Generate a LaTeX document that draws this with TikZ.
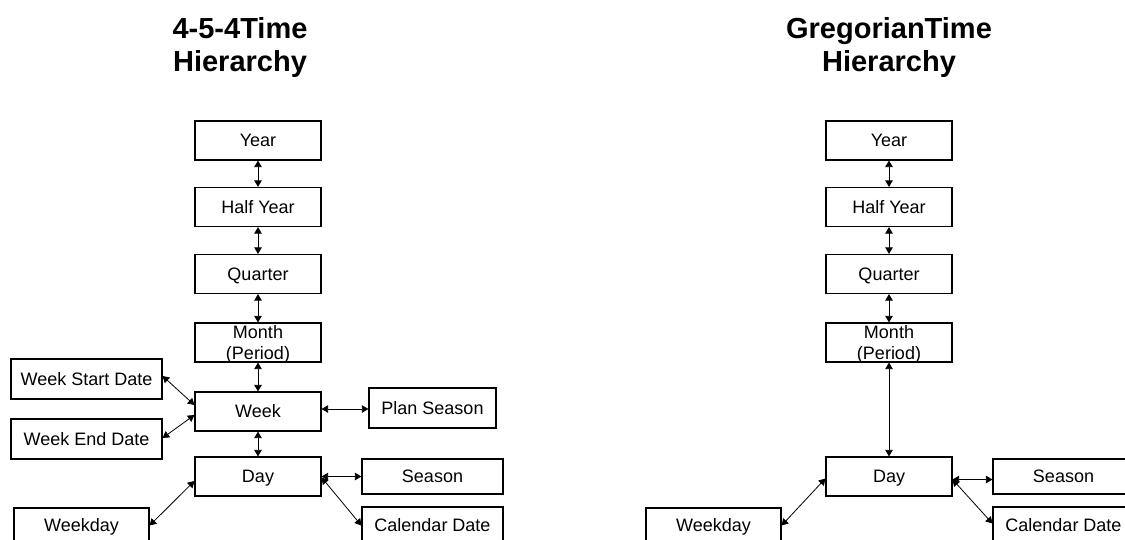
\documentclass[tikz,border=0pt]{standalone}
\usepackage{fontspec}
\setmainfont{Liberation Sans}
\usetikzlibrary{arrows.meta}

\tikzset{
  box/.style={draw=black, line width=1.2pt, rectangle, inner sep=0pt,
    minimum width=126pt, minimum height=39pt, font=\fontsize{18pt}{20.5pt}\selectfont,
    align=center, fill=white, text height=16.3pt, text depth=3.8pt},
  twoline/.style={text height=, text depth=0pt},
  title/.style={align=center, inner sep=0pt,
    font=\fontsize{29pt}{33pt}\selectfont\bfseries},
  link/.style={line width=0.8pt,
    {Triangle[length=6.5pt,width=7.5pt]}-{Triangle[length=6.5pt,width=7.5pt]}},
}

\begin{document}
\begin{tikzpicture}[x=1pt, y=-1pt]
  \useasboundingbox (0,0) rectangle (1125,539);
  \clip (0,0) rectangle (1125,539);

  % ---- 4-5-4 calendar ----
  \node[title] (ltitle) at (240,47) {4-5-4Time\\Hierarchy};

  \node[box] (lyear)    at (258,140.5) {Year};
  \node[box] (lhalf)    at (258,207)   {Half Year};
  \node[box] (lquarter) at (258,274)   {Quarter};
  \node[box, twoline] (lmonth) at (258,342.5) {Month\\(Period)};
  \node[box] (lweek)    at (258,411.5) {Week};
  \node[box] (lday)     at (258,476.5) {Day};

  \node[box, minimum width=151pt, minimum height=40pt] (lwsd) at (86.5,379) {Week Start Date};
  \node[box, minimum width=151pt, minimum height=40pt] (lwed) at (86.5,439) {Week End Date};
  \node[box, minimum width=135pt, minimum height=35pt] (lweekday) at (81.5,525.5) {Weekday};
  \node[box, minimum width=127pt, minimum height=40pt] (lplan) at (432.5,408) {Plan Season};
  \node[box, minimum width=141pt, minimum height=35pt] (lseason) at (432.5,476.5) {Season};
  \node[box, minimum width=141pt, minimum height=37pt] (lcal) at (432.5,525.5) {Calendar Date};

  \draw[link] (lyear.south) -- (lhalf.north);
  \draw[link] (lhalf.south) -- (lquarter.north);
  \draw[link] (lquarter.south) -- (lmonth.north);
  \draw[link] (lmonth.south) -- (lweek.north);
  \draw[link] (lweek.south) -- (lday.north);
  \draw[link] ([yshift=3pt]lwsd.east) -- ([yshift=6.5pt]lweek.west);
  \draw[link] ([yshift=-3.5pt]lweek.west) -- ([yshift=1pt]lwed.east);
  \draw[link] ([yshift=2.5pt]lweek.east) -- ([yshift=2.5pt]lweek.east -| lplan.west);
  \draw[link] ([yshift=-4.5pt]lday.west) -- (lweekday.east);
  \draw[link] (lday.east) -- (lday.east -| lseason.west);
  \draw[link] ([yshift=-1pt]lday.east) -- (lcal.west);

  % ---- Gregorian calendar ----
  \node[title] (rtitle) at (889,47) {GregorianTime\\Hierarchy};

  \node[box] (ryear)    at (889,140.5) {Year};
  \node[box] (rhalf)    at (889,207)   {Half Year};
  \node[box] (rquarter) at (889,274)   {Quarter};
  \node[box, twoline] (rmonth) at (889,342.5) {Month\\(Period)};
  \node[box] (rday)     at (889,476.5) {Day};

  \node[box, minimum width=135pt, minimum height=35pt] (rweekday) at (713.5,525.5) {Weekday};
  \node[box, minimum width=141pt, minimum height=35pt] (rseason) at (1063.5,476.5) {Season};
  \node[box, minimum width=141pt, minimum height=37pt] (rcal) at (1063.5,525.5) {Calendar Date};

  \draw[link] (ryear.south) -- (rhalf.north);
  \draw[link] (rhalf.south) -- (rquarter.north);
  \draw[link] (rquarter.south) -- (rmonth.north);
  \draw[link] (rmonth.south) -- (rday.north);
  \draw[link] ([yshift=-2pt]rday.west) -- (rweekday.east);
  \draw[link] ([yshift=-3pt]rday.east) -- ([yshift=-3pt]rday.east -| rseason.west);
  \draw[link] ([yshift=-3pt]rday.east) -- ([yshift=2pt]rcal.west);
\end{tikzpicture}
\end{document}
